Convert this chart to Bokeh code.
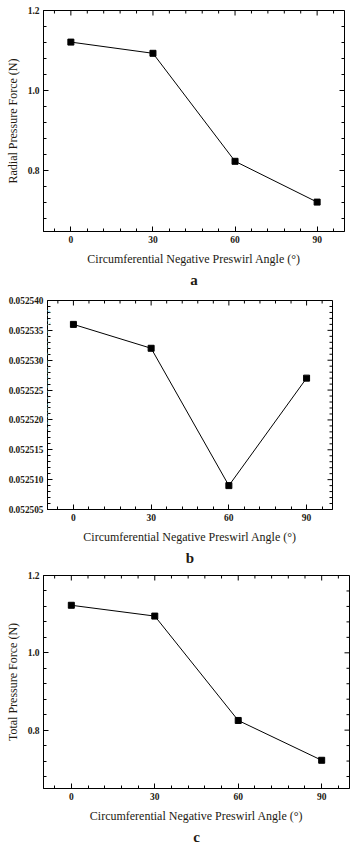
import numpy as np
from bokeh.plotting import figure
from bokeh.layouts import column, row
from bokeh.models import (LinearAxis, Range1d, Title, Label, FixedTicker,
                          PrintfTickFormatter)
from bokeh.embed import file_html
from bokeh.resources import INLINE

# ---- data ----
angles = [0, 30, 60, 90]
radial_force = [1.121, 1.093, 0.823, 0.721]
axial_force = [0.052536, 0.052532, 0.052509, 0.052527]
total_force = [1.123, 1.095, 0.825, 0.722]

x_ticks = [0, 30, 60, 90]
force_ticks = [0.8, 1.0, 1.2]
axial_ticks = [0.052505, 0.052510, 0.052515, 0.052520, 0.052525, 0.052530, 0.052535, 0.052540]

x_title = "Circumferential Negative Preswirl Angle (°)"

FONT = "Liberation Serif"
TXT = "#231a12"


def style_axis(ax, fs):
    ax.axis_line_color = "black"
    ax.axis_line_width = 1
    ax.major_tick_in = 5
    ax.major_tick_out = 0
    ax.minor_tick_in = 3
    ax.minor_tick_out = 0
    ax.major_tick_line_color = "black"
    ax.minor_tick_line_color = "black"
    ax.major_label_text_font = FONT
    ax.major_label_text_font_style = "bold"
    ax.major_label_text_font_size = fs
    ax.major_label_text_color = TXT
    ax.major_label_standoff = 4
    ax.axis_label_text_font = FONT
    ax.axis_label_text_font_style = "normal"
    ax.axis_label_text_font_size = "12px"
    ax.axis_label_text_color = TXT


def panel(yvals, ylabel, y0, y1, yticks, yminor, yfmt, yfs,
          left, fw, right, top, fh, bottom, letter):
    p = figure(frame_width=fw, frame_height=fh,
               min_border_left=left, min_border_right=right,
               min_border_top=top, min_border_bottom=bottom,
               x_range=Range1d(-10, 100), y_range=Range1d(y0, y1),
               output_backend="svg", toolbar_location=None,
               x_axis_location=None, y_axis_location=None)
    p.outline_line_color = "black"
    p.outline_line_width = 1
    p.xgrid.visible = False
    p.ygrid.visible = False
    p.background_fill_color = "white"
    p.border_fill_color = "white"

    xminor = list(np.arange(-6, 100, 6))
    xt = FixedTicker(ticks=x_ticks, minor_ticks=xminor)
    yt = FixedTicker(ticks=yticks, minor_ticks=yminor)

    xb = LinearAxis(ticker=xt, axis_label=x_title)
    style_axis(xb, "9.5px")
    xb.axis_label_standoff = 6
    p.add_layout(xb, "below")

    yl = LinearAxis(ticker=yt, formatter=PrintfTickFormatter(format=yfmt),
                    axis_label=ylabel)
    style_axis(yl, yfs)
    yl.axis_label_standoff = 5
    p.add_layout(yl, "left")

    # mirrored inward ticks on the top and right edges of the frame
    xminor_in = [v for v in xminor if v not in x_ticks]
    top_y = [y1] * len(x_ticks)
    p.scatter(x_ticks, top_y, marker="dash", angle=np.pi / 2, size=10,
              line_color="black", line_width=1)
    p.scatter(xminor_in, [y1] * len(xminor_in), marker="dash", angle=np.pi / 2,
              size=6, line_color="black", line_width=1)
    p.scatter([100] * len(yticks), yticks, marker="dash", size=10,
              line_color="black", line_width=1)
    p.scatter([100] * len(yminor), yminor, marker="dash", size=6,
              line_color="black", line_width=1)

    p.line(angles, yvals, line_color="black", line_width=1)
    p.scatter(angles, yvals, marker="square", size=6,
              fill_color="black", line_color="black")

    t = Title(text=letter, align="center", text_font=FONT,
              text_font_size="15px", text_font_style="bold",
              text_color=TXT, standoff=2)
    p.add_layout(t, "below")
    return p


minor_force = [round(v, 2) for v in np.arange(0.68, 1.2, 0.04) if round(v, 2) not in (0.8, 1.0, 1.2)]
minor_axial = [0.052505 + i * 0.000001 for i in range(36) if i % 5 != 0]

pa = panel(radial_force, "Radial Pressure Force (N)", 0.6475, 1.2,
           force_ticks, minor_force, "%.1f", "9.5px",
           43, 301, 12, 10, 221, 57, "a")

pb = panel(axial_force, None, 0.052505, 0.052540,
           axial_ticks, minor_axial, "%.6f", "9.3px",
           47, 285, 24, 12, 209, 59, "b")
pb.add_layout(Label(x=3, y=140, x_units="screen", y_units="screen",
                    text="Axial Pressure Force (N)", angle=np.pi / 2,
                    text_align="center", text_baseline="bottom",
                    text_font=FONT, text_font_size="12px",
                    text_color="#8fdcf2"))

pc = panel(total_force, "Total Pressure Force (N)", 0.649, 1.2,
           force_ticks, minor_force, "%.1f", "9.5px",
           43, 306, 7, 7, 213, 59, "c")

layout = column(row(pa), row(pb), row(pc), spacing=0)
open("out.html", "w").write(file_html(layout, INLINE))
